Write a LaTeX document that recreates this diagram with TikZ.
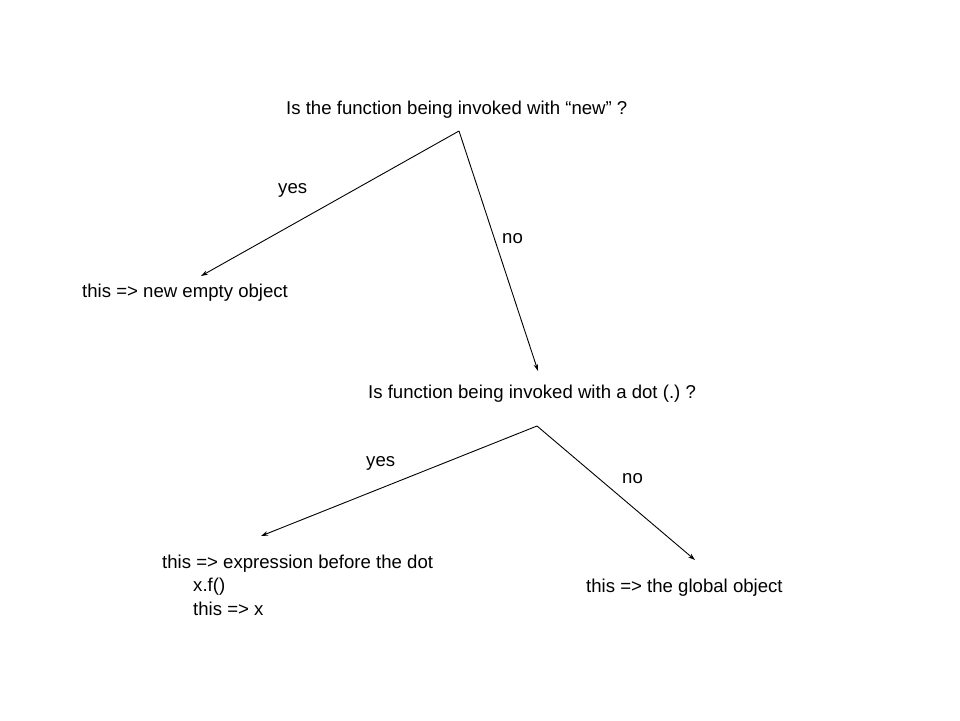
\documentclass[tikz,border=0pt]{standalone}
\usepackage{fontspec}
\setmainfont{Liberation Sans}
\usetikzlibrary{arrows.meta}
\frenchspacing
\begin{document}
\begin{tikzpicture}[x=1pt,y=-1pt,
  txt/.style={anchor=west,inner sep=0pt,font=\fontsize{18.6}{22}\selectfont},
  arr/.style={line width=0.9pt,-{Stealth[length=7pt,width=4.5pt]}}]
\useasboundingbox (0,0) rectangle (960,720);
\node[txt] (q1) at (286,110) {Is the function being invoked with “new” ?};
\node[txt] (a1) at (82,293) {this => new empty object};
\node[txt] (q2) at (368,394) {Is function being invoked with a dot (.)\ ?};
\node[txt] (a2) at (162,564) {this => expression before the dot};
\node[txt] (a2b) at (193,587) {x.f()};
\node[txt] (a2c) at (193,609) {this => x};
\node[txt] (a3) at (586,588) {this => the global object};
\node[txt] (y1) at (278,190) {yes};
\node[txt] (n1) at (502,239) {no};
\node[txt] (y2) at (366,463) {yes};
\node[txt] (n2) at (622,479) {no};
\coordinate (p1) at (459,131);
\coordinate (t1) at (201,276);
\coordinate (t2) at (538,371);
\coordinate (p2) at (537,426);
\coordinate (t3) at (261,536);
\coordinate (t4) at (695,560);
\draw[arr] (p1) -- (t1);
\draw[arr] (p1) -- (t2);
\draw[arr] (p2) -- (t3);
\draw[arr] (p2) -- (t4);
\end{tikzpicture}
\end{document}
